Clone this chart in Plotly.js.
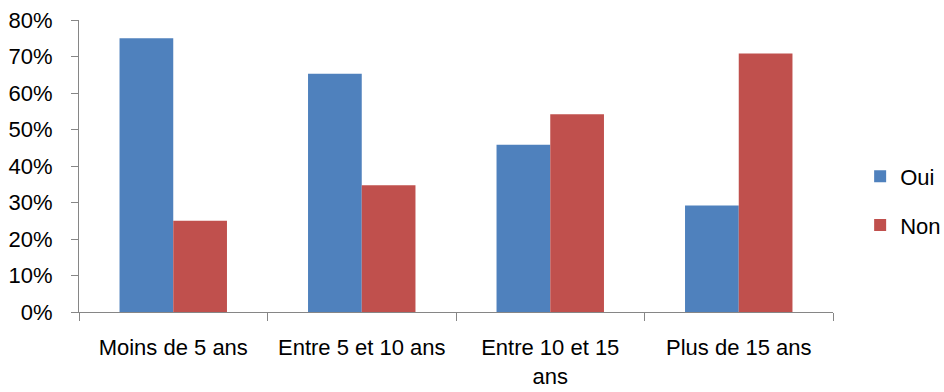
<!DOCTYPE html>
<html>
<head>
<meta charset="utf-8">
<script src="https://cdn.plot.ly/plotly-3.0.1.min.js"></script>
<style>html,body{margin:0;padding:0;background:#fff;}#chart{width:944px;height:392px;}</style>
</head>
<body>
<div id="chart"></div>
<script>
const categories = ["Moins de 5 ans", "Entre 5 et 10 ans", "Entre 10 et 15<br>ans", "Plus de 15 ans"];
const oui = [0.75, 0.653, 0.458, 0.292];
const non = [0.25, 0.347, 0.542, 0.708];
const yTickVals = [0, 0.1, 0.2, 0.3, 0.4, 0.5, 0.6, 0.7, 0.8];
const yTickText = ["0%", "10%", "20%", "30%", "40%", "50%", "60%", "70%", "80%"];

const font = {family: "Liberation Sans, Arial, sans-serif", size: 22, color: "#000"};

const data = [
  {type: "bar", name: "Oui", x: categories, y: oui, marker: {color: "#4F81BD"}, legendgroup: "a"},
  {type: "bar", name: "Non", x: categories, y: non, marker: {color: "#C0504D"}, legendgroup: "b"}
];

const layout = {
  width: 944, height: 392,
  margin: {l: 79, r: 111, t: 20, b: 80, autoexpand: false},
  paper_bgcolor: "#fff", plot_bgcolor: "#fff",
  font: font,
  barmode: "group", bargap: 0.43, bargroupgap: 0,
  xaxis: {
    type: "category", range: [-0.5, 3.5],
    showline: true, linecolor: "#868686", linewidth: 1,
    ticks: "outside", tickson: "boundaries", ticklen: 8, tickcolor: "#868686",
    showgrid: false, zeroline: false, tickfont: font, ticklabelstandoff: 16
  },
  yaxis: {
    range: [0, 0.8], tickvals: yTickVals, ticktext: yTickText,
    showline: true, linecolor: "#868686", linewidth: 1,
    ticks: "outside", ticklen: 7, tickcolor: "#868686",
    showgrid: false, zeroline: false, tickfont: font, ticklabelstandoff: 14
  },
  showlegend: true,
  legend: {
    x: 1.036, xanchor: "left", y: 0.38, yanchor: "middle",
    traceorder: "grouped", tracegroupgap: 17,
    font: font, bgcolor: "rgba(0,0,0,0)"
  }
};

Plotly.newPlot("chart", data, layout, {displayModeBar: false, staticPlot: true});
</script>
</body>
</html>
